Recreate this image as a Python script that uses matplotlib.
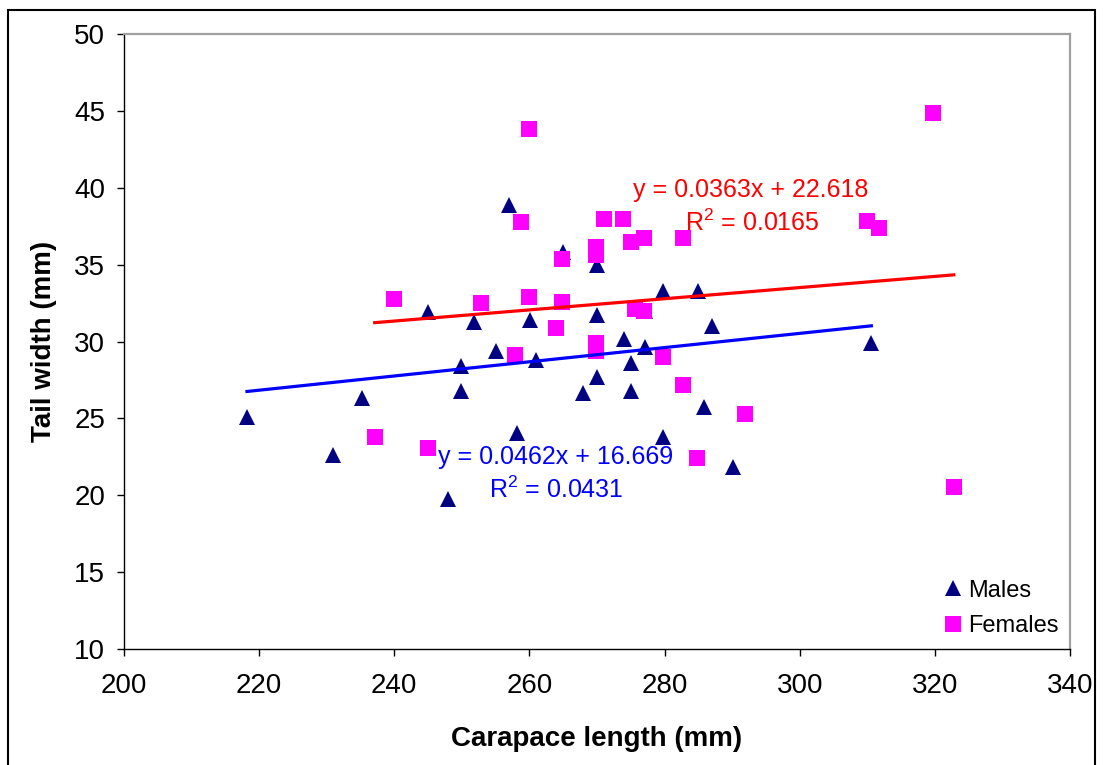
import matplotlib.pyplot as plt
import numpy as np
from matplotlib.patches import Rectangle

plt.rcParams['font.family'] = 'Liberation Sans'
plt.rcParams['mathtext.fontset'] = 'custom'
plt.rcParams['mathtext.rm'] = 'Liberation Sans'

# Males: carapace length vs tail width (mm)
male_length = [218.2, 231.0, 235.2, 245.0, 248.0, 249.8, 249.8, 251.8, 255.0, 257.0,
               258.1, 260.1, 261.0, 264.9, 268.0, 270.0, 270.0, 270.0, 274.0, 275.1,
               275.1, 277.1, 277.1, 279.8, 279.8, 285.0, 285.9, 287.0, 290.2, 310.6]
male_width = [25.11, 22.62, 26.35, 31.94, 19.74, 28.41, 26.80, 31.29, 29.40, 38.88,
              24.07, 31.40, 28.80, 35.84, 26.67, 34.98, 31.72, 27.69, 30.16, 28.62,
              26.80, 31.98, 29.66, 33.30, 23.81, 33.30, 25.72, 30.98, 21.86, 29.88]

# Females
female_length = [237.1, 240.0, 245.0, 252.8, 257.9, 258.8, 259.9, 259.9, 263.9, 264.8,
                 264.8, 269.9, 269.9, 269.9, 269.9, 271.0, 273.8, 275.0, 275.6, 277.0,
                 277.0, 279.8, 282.8, 282.8, 284.8, 291.9, 309.9, 311.8, 319.7, 322.8]
female_width = [23.77, 32.74, 23.05, 32.50, 29.10, 37.75, 43.80, 32.87, 30.86, 35.37,
                32.55, 36.17, 35.60, 29.88, 29.40, 37.97, 38.00, 36.50, 32.10, 36.75,
                32.00, 29.00, 36.75, 27.20, 22.40, 25.28, 37.86, 37.36, 44.84, 20.56]

# linear trendlines: slope, intercept, R^2
male_fit = (0.0462, 16.669, 0.0431)
female_fit = (0.0363, 22.618, 0.0165)

fig = plt.figure(figsize=(11.03, 7.65), dpi=100)
ax = fig.add_axes([124 / 1103, 1 - 649 / 765, 946 / 1103, 615 / 765])

ax.plot(male_length, male_width, linestyle='none', marker='^', markersize=12,
        color='#000080', markeredgewidth=0, label='Males', zorder=3)
ax.plot(female_length, female_width, linestyle='none', marker='s', markersize=11,
        color='#ff00ff', markeredgewidth=0, label='Females', zorder=3)

# trendlines over each group's range
mx = np.array([min(male_length), max(male_length)])
ax.plot(mx, male_fit[0] * mx + male_fit[1], color='#0000ff', lw=2.3, zorder=4)
fx = np.array([min(female_length), max(female_length)])
ax.plot(fx, female_fit[0] * fx + female_fit[1], color='#ff0000', lw=2.3, zorder=4)

ax.text(292.8, 39.42, f'y = {female_fit[0]}x + {female_fit[1]}', color='#ff0000',
        fontsize=18, ha='center', va='baseline')
ax.text(293.0, 37.21, f'R$^2$ = {female_fit[2]}', color='#ff0000',
        fontsize=18, ha='center', va='baseline')
ax.text(263.8, 22.01, f'y = {male_fit[0]}x + {male_fit[1]}', color='#0000ff',
        fontsize=18, ha='center', va='baseline')
ax.text(263.9, 19.80, f'R$^2$ = {male_fit[2]}', color='#0000ff',
        fontsize=18, ha='center', va='baseline')

ax.set_xlim(200, 340)
ax.set_ylim(10, 50)
ax.set_xticks(np.arange(200, 341, 20))
ax.set_yticks(np.arange(10, 51, 5))
ax.tick_params(direction='out', length=5, width=1, labelsize=20)
ax.tick_params(axis='y', pad=8.5)
ax.tick_params(axis='x', pad=12)

for side in ['top', 'right']:
    ax.spines[side].set_color('#a0a0a0')
    ax.spines[side].set_linewidth(1.6)
for side in ['left', 'bottom']:
    ax.spines[side].set_linewidth(1.0)

ax.set_xlabel('Carapace length (mm)', fontsize=20, fontweight='bold')
ax.set_ylabel('Tail width (mm)', fontsize=20, fontweight='bold')
ax.xaxis.set_label_coords(0.5, -0.126)
ax.yaxis.set_label_coords(-0.071, 0.5)

ax.legend(loc='upper left', bbox_to_anchor=(0.8636, 0.113), frameon=False,
          fontsize=17, handlelength=1.0, handletextpad=0.15, labelspacing=0.57,
          borderpad=0, borderaxespad=0)

# chart border
fig.add_artist(Rectangle((8 / 1103, -0.05), 1087 / 1103, 1.05 - 10 / 765,
                         transform=fig.transFigure, fill=False,
                         edgecolor='black', lw=1.5))

fig.savefig('out.png', dpi=100)
